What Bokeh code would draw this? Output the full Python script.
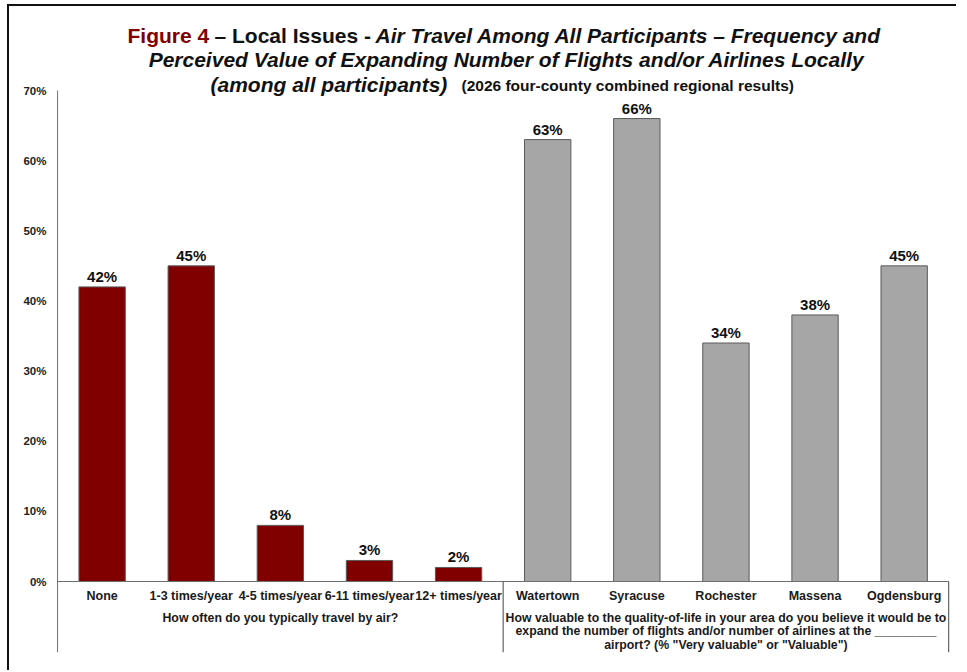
from bokeh.plotting import figure
from bokeh.models import Range1d, FixedTicker, PrintfTickFormatter, ColumnDataSource
from bokeh.embed import file_html
from bokeh.resources import INLINE
from bokeh.core.properties import value

# ---------------- data ----------------
freq_categories = ["None", "1-3 times/year", "4-5 times/year", "6-11 times/year", "12+ times/year"]
freq_values = [42, 45, 8, 3, 2]
airport_categories = ["Watertown", "Syracuse", "Rochester", "Massena", "Ogdensburg"]
airport_values = [63, 66, 34, 38, 45]
y_ticks = [0, 10, 20, 30, 40, 50, 60, 70]
group1_lines = ["How often do you typically travel by air?"]
group2_lines = [
    "How valuable to the quality-of-life in your area do you believe it would be to",
    "expand the number of flights and/or number of airlines at the _________",
    'airport? (% "Very valuable" or "Valuable")',
]
title_line1 = ["Figure 4", "\u2013 Local Issues -", "Air Travel Among All Participants \u2013 Frequency and"]
title_line2 = "Perceived Value of Expanding Number of Flights and/or Airlines Locally"
title_line3 = ["(among all participants)", "(2026 four-county combined regional results)"]

# ---------------- style / layout ----------------
RED = "#800000"
GRAY = "#A6A6A6"
FONT = "Liberation Sans"
OX, OY = 9, 6            # page position of the canvas (after css margin + border)
W, H = 949, 666
F_LEFT, F_RIGHT, F_BOTTOM = 56, 950, 652     # page px of plot frame
ZERO_PY = 581                                 # page y of 0%
PX_PER_Y = 491 / 70
X_START, X_END = -0.012, 10.02
PX_PER_X = (F_RIGHT - F_LEFT) / (X_END - X_START)

categories = freq_categories + airport_categories
values = freq_values + airport_values
colors = [RED] * len(freq_values) + [GRAY] * len(airport_values)
xs = [i + 0.5 for i in range(len(categories))]
labels = [f"{v}%" for v in values]
n = len(categories)
b1 = len(freq_values)


def tx(px):
    return X_START + (px - F_LEFT) / PX_PER_X


def ty(py):
    return (ZERO_PY - py) / PX_PER_Y


Y_TOP = ty(OY)
Y_BOTTOM = ty(F_BOTTOM)

p = figure(width=W, height=H, output_backend="svg", toolbar_location=None, title=None,
           x_range=Range1d(X_START, X_END), y_range=Range1d(Y_BOTTOM, Y_TOP),
           x_axis_location=None,
           min_border_left=F_LEFT - OX, min_border_right=OX + W - F_RIGHT,
           min_border_top=0, min_border_bottom=OY + H - F_BOTTOM)
p.outline_line_color = None
p.xgrid.visible = False
p.ygrid.visible = False
p.background_fill_color = "white"
p.border_fill_color = "white"
p.styles = {"border-left": "2px solid #111", "border-top": "2px solid #111",
            "margin-left": "7px", "margin-top": "4px"}

ax = p.yaxis[0]
ax.ticker = FixedTicker(ticks=y_ticks)
ax.formatter = PrintfTickFormatter(format="%d%%")
ax.major_tick_line_color = None
ax.minor_tick_line_color = None
ax.axis_line_color = None
ax.major_label_text_font = FONT
ax.major_label_text_font_style = "bold"
ax.major_label_text_font_size = "11.5px"
ax.major_label_text_color = "#222222"
ax.major_label_standoff = 4

# axis line (also the left group separator) from 70% down to the bottom of the label area
p.segment(x0=[0], y0=[max(y_ticks)], x1=[0], y1=[Y_BOTTOM], line_color="#6f6f6f", line_width=1)

src = ColumnDataSource(dict(x=xs, top=values, color=colors, label=labels, cat=categories))
p.vbar(x="x", top="top", bottom=0, width=0.52, fill_color="color", line_color="#5a5a5a",
       line_width=1, source=src)

# value labels
p.text(x="x", y="top", text="label", source=src, text_align="center",
       text_baseline="bottom", y_offset=-2, text_font=value(FONT),
       text_font_style="bold", text_font_size="15px", text_color="#111111")

# category labels
p.text(x="x", y=0, text="cat", source=src, text_align="center", text_baseline="middle",
       y_offset=14, text_font=value(FONT), text_font_style="bold",
       text_font_size="12.5px", text_color="#1a1a1a")

# baseline and separators
p.segment(x0=[0], y0=[0], x1=[n], y1=[0], line_color="#6f6f6f", line_width=1)
p.segment(x0=[b1, n], y0=[0, 0], x1=[b1, n], y1=[Y_BOTTOM, Y_BOTTOM],
          line_color="#444444", line_width=1)

# group labels
g1x = sum(xs[:b1]) / b1
g2x = sum(xs[b1:]) / (n - b1)
for gx, lines in ((g1x, group1_lines), (g2x, group2_lines)):
    for i, t in enumerate(lines):
        p.text(x=[gx], y=[0], text=[t], text_align="center", text_baseline="middle",
               y_offset=36 + 13.5 * i, text_font=value(FONT), text_font_style="bold",
               text_font_size="12.3px", text_color="#1a1a1a")


# ---------------- title (placed by page pixel positions) ----------------
def ttext(px, py, text, size, style, color="#111111", align="left"):
    p.text(x=[tx(px)], y=[ty(py)], text=[text], text_font=value(FONT), text_font_size=size,
           text_font_style=style, text_color=color, text_align=align, text_baseline="middle")


ttext(127, 35, title_line1[0], "21px", "bold", RED)
ttext(214, 35, title_line1[1], "21px", "bold")
ttext(375, 35, title_line1[2], "21px", "bold italic")
ttext(506, 59, title_line2, "21px", "bold italic", align="center")
ttext(210, 84, title_line3[0], "21px", "bold italic")
ttext(461, 85, title_line3[1], "15.5px", "bold")

open("out.html", "w").write(file_html(p, INLINE))
